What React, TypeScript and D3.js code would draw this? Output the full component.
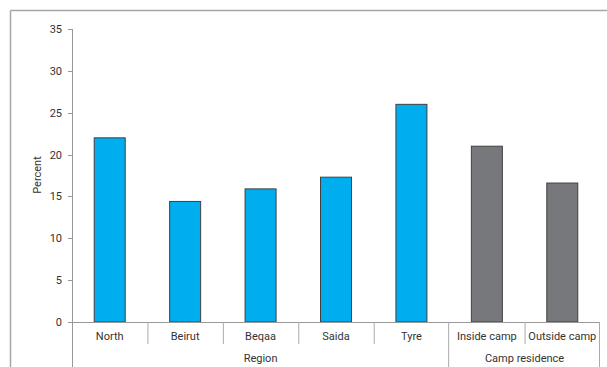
import React from "react";
import * as d3 from "d3";

const categories = ["North", "Beirut", "Beqaa", "Saida", "Tyre", "Inside camp", "Outside camp"];
const values = [22.0, 14.4, 15.9, 17.3, 26.0, 21.0, 16.6];
const groups = ["Region", "Region", "Region", "Region", "Region", "Camp residence", "Camp residence"];
const groupNames = ["Region", "Camp residence"];
const yTicks = [0, 5, 10, 15, 20, 25, 30, 35];

const W = 607, H = 367;
const x0 = 72, x1 = 600, yBottom = 322, yTop = 29;
const FONT = "Roboto, sans-serif";

export default function App() {
  const x = d3.scaleBand<string>().domain(categories).range([x0, x1]).paddingInner(0).paddingOuter(0);
  const y = d3.scaleLinear().domain([0, 35]).range([yBottom, yTop]);
  const bw = 31;
  const groupExtents = groupNames.map((g) => {
    const idx = categories.map((_, i) => i).filter((i) => groups[i] === g);
    const start = x(categories[idx[0]])!;
    const end = x(categories[idx[idx.length - 1]])! + x.bandwidth();
    return { g, start, end };
  });
  return (
    <svg width={W} height={H} style={{ position: "absolute", left: 0, top: 0, background: "#fff" }}>
      {/* frame */}
      <line x1={10.5} y1={10.5} x2={W} y2={10.5} stroke="#a6a6a6" strokeWidth={1.5} />
      <line x1={10.5} y1={10.5} x2={10.5} y2={H} stroke="#a6a6a6" strokeWidth={1.5} />
      {/* bars */}
      {categories.map((c, i) => (
        <rect
          key={c}
          x={x(c)! + x.bandwidth() / 2 - bw / 2}
          y={y(values[i])}
          width={bw}
          height={yBottom - y(values[i])}
          fill={groups[i] === "Region" ? "#00adef" : "#77787b"}
          stroke="#404040"
          strokeWidth={1}
        />
      ))}
      {/* y axis */}
      <line x1={x0 + 0.5} y1={yTop} x2={x0 + 0.5} y2={H} stroke="#999" strokeWidth={1} />
      {yTicks.map((t) => (
        <g key={t}>
          <line x1={x0 - 4} x2={x0} y1={Math.round(y(t)) + 0.5} y2={Math.round(y(t)) + 0.5} stroke="#999" />
          <text x={62} y={y(t) + 4} textAnchor="end" fontSize={11} fill="#333" fontFamily={FONT}>
            {t}
          </text>
        </g>
      ))}
      <text
        transform={`translate(41,175) rotate(-90)`}
        textAnchor="middle"
        fontSize={11}
        fill="#333"
        fontFamily={FONT}
      >
        Percent
      </text>
      {/* x axis */}
      <line x1={x0 - 4} x2={x1} y1={yBottom + 0.5} y2={yBottom + 0.5} stroke="#999" />
      {categories.map((c, i) => (
        <g key={c}>
          {i > 0 && groups[i] === groups[i - 1] && (
            <line x1={x(c)! + 0.5} x2={x(c)! + 0.5} y1={yBottom} y2={344} stroke="#aaa" />
          )}
          <text
            x={x(c)! + x.bandwidth() / 2}
            y={340}
            textAnchor="middle"
            fontSize={11}
            fill="#333"
            fontFamily={FONT}
          >
            {c}
          </text>
        </g>
      ))}
      {groupExtents.map((ge) => (
        <g key={ge.g}>
          <line x1={ge.end - 0.5} x2={ge.end - 0.5} y1={yBottom} y2={H} stroke="#aaa" />
          <text
            x={(ge.start + ge.end) / 2}
            y={362}
            textAnchor="middle"
            fontSize={11}
            fill="#333"
            fontFamily={FONT}
          >
            {ge.g}
          </text>
        </g>
      ))}
    </svg>
  );
}
